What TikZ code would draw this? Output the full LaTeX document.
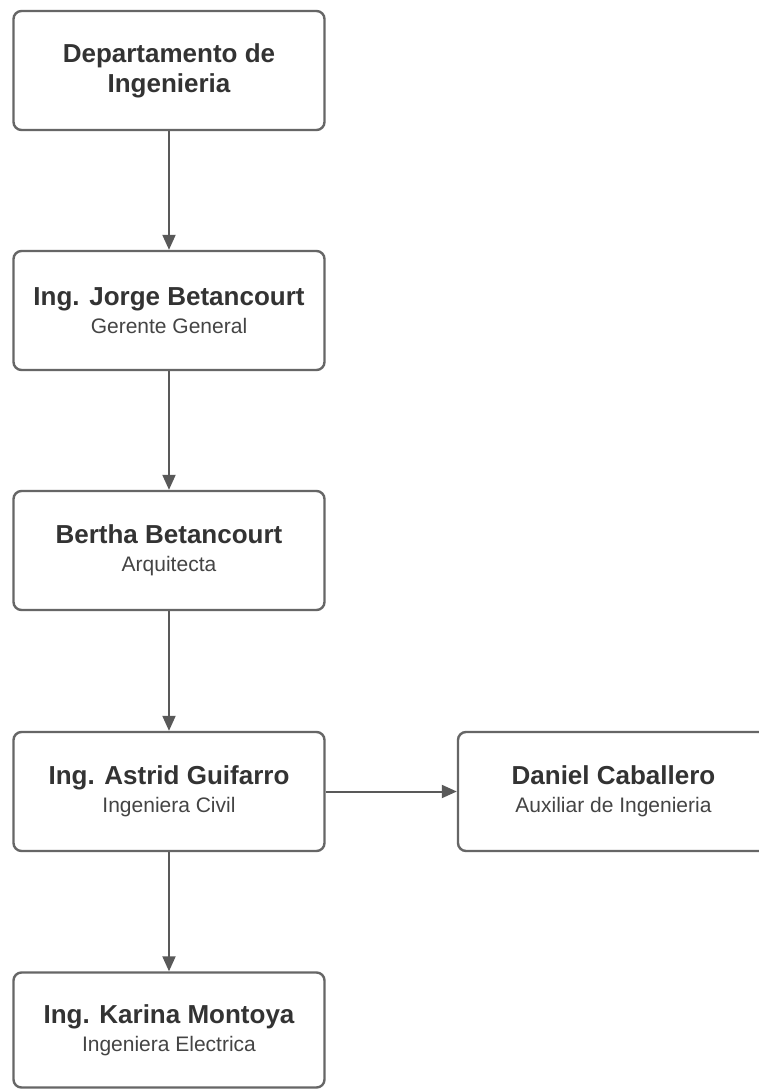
\documentclass[tikz,border=0pt]{standalone}
\usepackage{fontspec}
\setmainfont{Liberation Sans}
\usetikzlibrary{arrows.meta}
\definecolor{boxline}{HTML}{666666}
\definecolor{arrowline}{HTML}{595959}
\definecolor{titletext}{HTML}{333333}
\definecolor{subtext}{HTML}{444444}
\tikzset{
  orgbox/.style={draw=boxline, line width=2.4pt, rounded corners=8pt, fill=white,
    minimum width=311pt, minimum height=119pt, inner sep=0pt, align=center,
    font=\fontsize{21}{28}\selectfont, text=subtext},
  link/.style={draw=arrowline, line width=2pt, -{Triangle[length=15pt,width=13pt]}},
}
\newcommand{\ttl}[1]{{\bfseries\fontsize{26}{29}\selectfont\color{titletext}#1}}
\begin{document}
\begin{tikzpicture}[x=1pt,y=-1pt]
\useasboundingbox[fill=white] (0,0) rectangle (758,1089);
\node[orgbox] (dep) at (169,70.5) {\ttl{Departamento de}\\[2pt]\ttl{Ingenieria}};
\node[orgbox] (jorge) at (169,310.5) {\ttl{Ing. Jorge Betancourt}\\Gerente General};
\node[orgbox] (bertha) at (169,550.5) {\ttl{Bertha Betancourt}\\Arquitecta};
\node[orgbox] (astrid) at (169,791.5) {\ttl{Ing. Astrid Guifarro}\\Ingeniera Civil};
\node[orgbox] (daniel) at (613.5,791.5) {\ttl{Daniel Caballero}\\Auxiliar de Ingenieria};
\node[orgbox, minimum height=115pt] (karina) at (169,1030) {\ttl{Ing. Karina Montoya}\\Ingeniera Electrica};
\draw[link] (dep) -- (jorge);
\draw[link] (jorge) -- (bertha);
\draw[link] (bertha) -- (astrid);
\draw[link] (astrid) -- (karina);
\draw[link] (astrid) -- (daniel);
\end{tikzpicture}
\end{document}
